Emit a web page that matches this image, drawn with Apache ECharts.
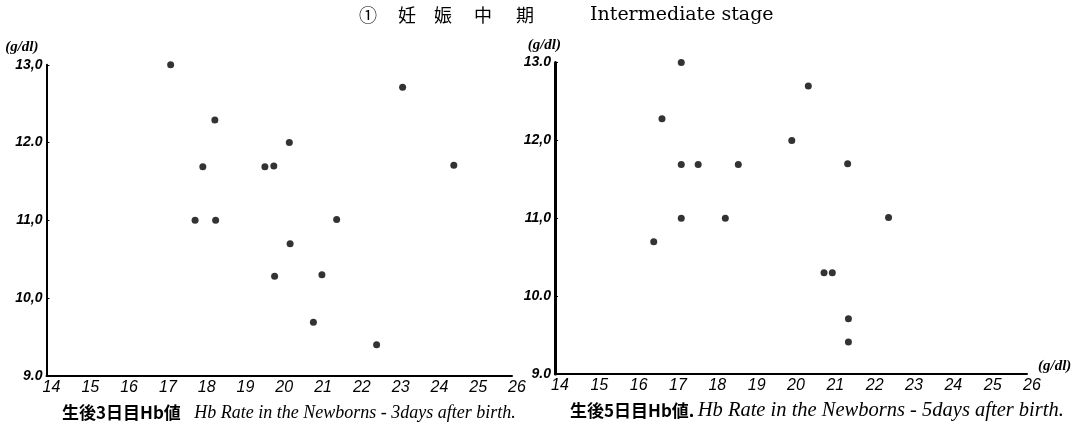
<!DOCTYPE html>
<html>
<head>
<meta charset="utf-8">
<script src="https://cdn.jsdelivr.net/npm/echarts@6/dist/echarts.min.js"></script>
<style>
html,body{margin:0;padding:0;background:#fff;}
#chart{width:1083px;height:433px;}
</style>
</head>
<body>
<div id="chart"></div>
<script>
// Newborn Hb (x, g/dl) vs maternal Hb (y, g/dl), intermediate stage of pregnancy
const newborn3 = [17.20, 18.34, 20.26, 18.03, 19.63, 19.86, 17.83, 18.36, 21.48, 20.28, 23.18, 24.50, 19.88, 21.10, 20.88, 22.51];
const mother3  = [13.00, 12.29, 12.00, 11.69, 11.69, 11.70, 11.00, 11.00, 11.01, 10.70, 12.71, 11.71, 10.28, 10.30, 9.69, 9.40];
const newborn5 = [17.21, 16.72, 17.21, 17.64, 18.66, 17.21, 18.33, 16.51, 20.44, 20.02, 21.44, 22.48, 20.84, 21.05, 21.46, 21.46];
const mother5  = [13.00, 12.28, 11.69, 11.69, 11.69, 11.00, 11.00, 10.70, 12.70, 12.00, 11.70, 11.01, 10.30, 10.30, 9.71, 9.41];

const xMin = 14, xMax = 26, xStep = 1;
const yMin = 9, yMax = 13, yStep = 1;
const leftYLabels  = ['9.0', '10,0', '11,0', '12.0', '13,0'];
const rightYLabels = ['9.0', '10.0', '11,0', '12,0', '13.0'];

const titleCJK = ['①', '妊', '娠', '中', '期'];
const titleEN = 'Intermediate stage';
const captionLeftJP = '生後3日目Hb値';
const captionLeftEN = 'Hb Rate in the Newborns - 3days after birth.';
const captionRightJP = '生後5日目Hb値.';
const captionRightEN = 'Hb Rate in the Newborns - 5days after birth.';
const unit = '(g/dl)';

const chart = echarts.init(document.getElementById('chart'), null, {renderer: 'canvas'});

function xAxisCfg(gi) {
  return {
    type: 'value', gridIndex: gi, min: xMin, max: xMax, interval: xStep,
    axisLine: {show: true, onZero: false, lineStyle: {color: '#000', width: 2}},
    axisTick: {show: false},
    splitLine: {show: false},
    axisLabel: {
      color: '#000', fontSize: 16, fontStyle: 'italic', fontFamily: 'Liberation Sans',
      margin: 4, padding: [0, 0, 0, 10],
      formatter: v => String(v)
    }
  };
}
function yAxisCfg(gi, labels, lw, namePad) {
  return {
    type: 'value', gridIndex: gi, min: yMin, max: yMax, interval: yStep,
    name: unit, nameLocation: 'end', nameGap: 10,
    nameTextStyle: {color: '#000', fontSize: 15, fontStyle: 'italic', fontWeight: 'bold',
      fontFamily: 'Liberation Serif', align: 'right', padding: namePad},
    axisLine: {show: true, onZero: false, lineStyle: {color: '#000', width: lw}},
    axisTick: {show: true, inside: true, length: 3, lineStyle: {color: '#000', width: 1}},
    splitLine: {show: false},
    axisLabel: {
      color: '#000', fontSize: 14, fontStyle: 'italic', fontWeight: 'bold', fontFamily: 'Liberation Sans',
      margin: 4, padding: [6, 0, 0, 0],
      formatter: v => labels[Math.round((v - yMin) / yStep)]
    }
  };
}

const option = {
  backgroundColor: '#fff',
  animation: false,
  grid: [
    {left: 46.5, right: 571, top: 64.8, bottom: 57.1},
    {left: 555, right: 56, top: 62.6, bottom: 59}
  ],
  xAxis: [xAxisCfg(0), xAxisCfg(1)],
  yAxis: [yAxisCfg(0, leftYLabels, 2, [0, 8, 0, 0]), yAxisCfg(1, rightYLabels, 3, [0, -6, 0, 0])],
  series: [
    {type: 'scatter', xAxisIndex: 0, yAxisIndex: 0, symbol: 'circle', symbolSize: 7,
      itemStyle: {color: '#000'}, data: newborn3.map((x, i) => [x, mother3[i]])},
    {type: 'scatter', xAxisIndex: 1, yAxisIndex: 1, symbol: 'circle', symbolSize: 7,
      itemStyle: {color: '#000'}, data: newborn5.map((x, i) => [x, mother5[i]])}
  ],
  graphic: [
    ...titleCJK.map((c, i) => ({
      type: 'text', x: [368, 407, 443, 483, 525][i], y: 15,
      style: {text: c, fill: '#000', font: '18px "Noto Sans CJK JP"', align: 'center', verticalAlign: 'middle'}
    })),
    {type: 'text', x: 590, y: 15,
      style: {text: titleEN, fill: '#000', font: '19px "DejaVu Serif"', align: 'left', verticalAlign: 'middle'}},
    {type: 'text', x: 62, y: 413,
      style: {text: '{a|' + captionLeftJP + '}    {b|' + captionLeftEN + '}', align: 'left', verticalAlign: 'middle',
        rich: {
          a: {fill: '#000', fontSize: 17, fontWeight: 'bold', fontFamily: 'Noto Sans CJK JP'},
          b: {fill: '#000', fontSize: 18, fontStyle: 'italic', fontFamily: 'Liberation Serif'}
        }}},
    {type: 'text', x: 570, y: 411,
      style: {text: '{a|' + captionRightJP + '} {b|' + captionRightEN + '}', align: 'left', verticalAlign: 'middle',
        rich: {
          a: {fill: '#000', fontSize: 17, fontWeight: 'bold', fontFamily: 'Noto Sans CJK JP'},
          b: {fill: '#000', fontSize: 20.5, fontStyle: 'italic', fontFamily: 'Liberation Serif'}
        }}},
    {type: 'text', x: 1038, y: 366,
      style: {text: unit, fill: '#000', font: 'italic bold 15px "Liberation Serif"', align: 'left', verticalAlign: 'middle'}}
  ]
};
chart.setOption(option);
</script>
</body>
</html>
